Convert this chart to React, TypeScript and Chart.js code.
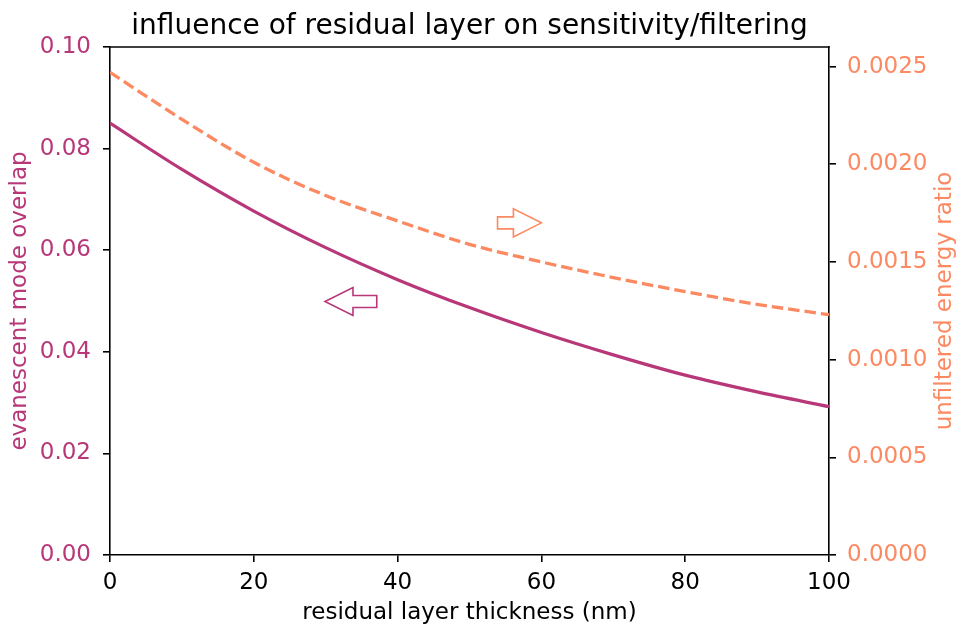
import React, { useEffect, useRef } from "react";
import { Chart, registerables } from "chart.js";

Chart.register(...registerables);

// ---- data ----
const thickness = [0, 10, 20, 30, 40, 50, 60, 70, 80, 90, 100];
const overlap = [0.085, 0.0759, 0.0677, 0.0605, 0.0542, 0.0487, 0.0438, 0.0394, 0.0354, 0.0321, 0.0292];
const energyRatio = [0.00247, 0.00223, 0.00201, 0.00184, 0.00171, 0.00159, 0.0015, 0.00142, 0.001348, 0.001283, 0.00123];

const xTicks = [0, 20, 40, 60, 80, 100];
const leftTicks = [0, 0.02, 0.04, 0.06, 0.08, 0.1];
const rightTicks = [0, 0.0005, 0.001, 0.0015, 0.002, 0.0025];

// annotation arrows in data coordinates (x in nm, y on the series' own axis)
const overlapArrow = { from: 37.1, to: 29.9, y: 0.0499 };
const ratioArrow = { from: 53.9, to: 60.0, y: 0.0017 };

const TITLE = "influence of residual layer on sensitivity/filtering";
const X_LABEL = "residual layer thickness (nm)";
const Y_LABEL = "evanescent mode overlap";
const Y2_LABEL = "unfiltered energy ratio";

const PURPLE = "#b73779";
const ORANGE = "#fc8961";
const FONT = "'DejaVu Sans', sans-serif";
const FS = 23;

function drawArrow(ctx: CanvasRenderingContext2D, x0: number, x1: number, y: number, color: string) {
  const dir = x1 > x0 ? 1 : -1;
  const headLen = 28;
  const bodyHalf = 6;
  const headHalf = 14;
  const xb = x1 - dir * headLen;
  ctx.beginPath();
  ctx.moveTo(x0, y - bodyHalf);
  ctx.lineTo(xb, y - bodyHalf);
  ctx.lineTo(xb, y - headHalf);
  ctx.lineTo(x1, y);
  ctx.lineTo(xb, y + headHalf);
  ctx.lineTo(xb, y + bodyHalf);
  ctx.lineTo(x0, y + bodyHalf);
  ctx.closePath();
  ctx.fillStyle = "#ffffff";
  ctx.fill();
  ctx.lineWidth = 1.6;
  ctx.strokeStyle = color;
  ctx.lineJoin = "miter";
  ctx.stroke();
}

const decor = {
  id: "decor",
  afterDatasetsDraw(chart: any) {
    const { ctx, chartArea, scales } = chart;
    ctx.save();
    // top spine
    ctx.strokeStyle = "#000";
    ctx.lineWidth = 1.6;
    ctx.beginPath();
    ctx.moveTo(chartArea.left - 0.8, chartArea.top);
    ctx.lineTo(chartArea.right + 0.8, chartArea.top);
    ctx.stroke();
    // arrows
    drawArrow(
      ctx,
      scales.x.getPixelForValue(overlapArrow.from),
      scales.x.getPixelForValue(overlapArrow.to),
      scales.y.getPixelForValue(overlapArrow.y),
      PURPLE
    );
    drawArrow(
      ctx,
      scales.x.getPixelForValue(ratioArrow.from),
      scales.x.getPixelForValue(ratioArrow.to),
      scales.y2.getPixelForValue(ratioArrow.y),
      ORANGE
    );
    // title centred over the axes
    ctx.fillStyle = "#000";
    ctx.font = `28px ${FONT}`;
    ctx.textAlign = "center";
    ctx.textBaseline = "alphabetic";
    ctx.fillText(TITLE, (chartArea.left + chartArea.right) / 2, 34);
    // right axis label, reading bottom to top like the left one
    ctx.save();
    ctx.translate(945.5, (chartArea.top + chartArea.bottom) / 2);
    ctx.rotate(-Math.PI / 2);
    ctx.fillStyle = ORANGE;
    ctx.font = `${FS}px ${FONT}`;
    ctx.textAlign = "center";
    ctx.textBaseline = "middle";
    ctx.fillText(Y2_LABEL, 0, 0);
    ctx.restore();
    ctx.restore();
  },
};

const tickGrid = {
  display: true,
  drawOnChartArea: false,
  drawTicks: true,
  tickLength: 7,
  tickColor: "#000",
  tickWidth: 1.6,
  color: "#000",
  lineWidth: 1.6,
};
const border = { display: true, color: "#000", width: 1.6 };

export default function App() {
  const ref = useRef<HTMLCanvasElement | null>(null);

  useEffect(() => {
    if (!ref.current) return;
    const chart = new Chart(ref.current, {
      type: "line",
      data: {
        datasets: [
          {
            label: Y_LABEL,
            data: thickness.map((x, i) => ({ x, y: overlap[i] })),
            borderColor: PURPLE,
            borderWidth: 3.2,
            pointRadius: 0,
            cubicInterpolationMode: "monotone",
            fill: false,
            yAxisID: "y",
          },
          {
            label: Y2_LABEL,
            data: thickness.map((x, i) => ({ x, y: energyRatio[i] })),
            borderColor: ORANGE,
            borderWidth: 3.3,
            borderDash: [11.5, 5],
            borderCapStyle: "butt",
            pointRadius: 0,
            cubicInterpolationMode: "monotone",
            fill: false,
            yAxisID: "y2",
          },
        ],
      },
      options: {
        responsive: false,
        animation: false,
        devicePixelRatio: 1,
        layout: { padding: { top: 47, left: 0, right: 0, bottom: 0 } },
        plugins: {
          legend: { display: false },
          title: { display: false },
          tooltip: { enabled: false },
        },
        scales: {
          x: {
            type: "linear",
            min: 0,
            max: 100,
            grid: tickGrid,
            border,
            afterBuildTicks: (s: any) => {
              s.ticks = xTicks.map((v) => ({ value: v }));
            },
            afterFit: (s: any) => {
              s.height = 73;
            },
            ticks: {
              color: "#000",
              padding: 7,
              font: { family: FONT, size: FS },
              maxRotation: 0,
              callback: (v: any) => String(v),
            },
            title: {
              display: true,
              text: X_LABEL,
              color: "#000",
              font: { family: FONT, size: FS },
              padding: { top: 0, bottom: 1 },
            },
          },
          y: {
            type: "linear",
            position: "left",
            min: 0,
            max: 0.1,
            grid: tickGrid,
            border,
            afterBuildTicks: (s: any) => {
              s.ticks = leftTicks.map((v) => ({ value: v }));
            },
            afterFit: (s: any) => {
              s.width = 110;
            },
            ticks: {
              color: PURPLE,
              padding: 12,
              font: { family: FONT, size: FS },
              callback: (v: any) => Number(v).toFixed(2),
            },
            title: {
              display: true,
              text: Y_LABEL,
              color: PURPLE,
              font: { family: FONT, size: FS },
              padding: { top: 6, bottom: 0 },
            },
          },
          y2: {
            type: "linear",
            position: "right",
            min: 0,
            max: 0.0026,
            grid: tickGrid,
            border,
            afterBuildTicks: (s: any) => {
              s.ticks = rightTicks.map((v) => ({ value: v }));
            },
            afterFit: (s: any) => {
              s.width = 132;
            },
            ticks: {
              color: ORANGE,
              padding: 11,
              font: { family: FONT, size: FS },
              callback: (v: any) => Number(v).toFixed(4),
            },
            title: { display: false },
          },
        },
      } as any,
      plugins: [decor],
    });
    return () => chart.destroy();
  }, []);

  return (
    <div style={{ position: "fixed", left: 0, top: 0, width: 961, height: 628, background: "#fff" }}>
      <canvas ref={ref} width={961} height={628} style={{ display: "block" }} />
    </div>
  );
}
